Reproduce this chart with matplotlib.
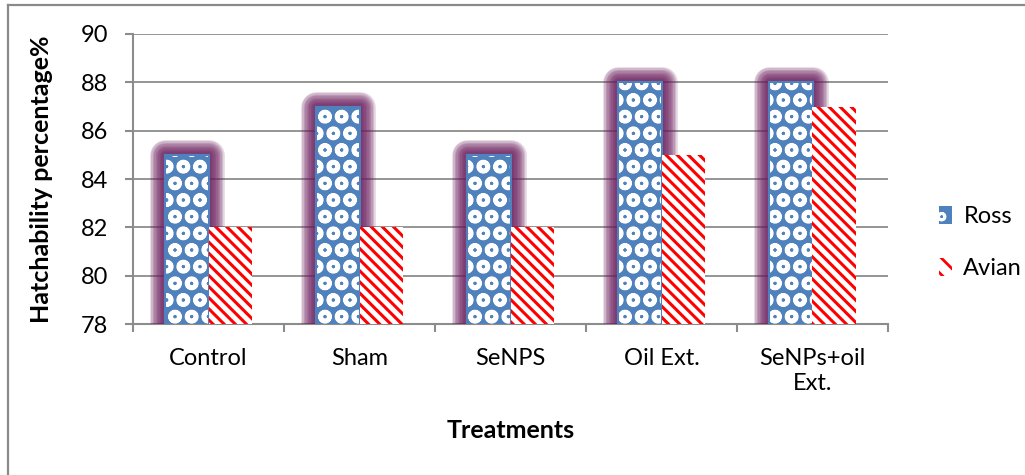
import matplotlib
matplotlib.use('Agg')
import matplotlib.pyplot as plt
import matplotlib.patheffects as pe
from matplotlib.patches import Patch
from matplotlib.lines import Line2D
import numpy as np

treatments = ['Control', 'Sham', 'SeNPS', 'Oil Ext.', 'SeNPs+oil\nExt.']
ross = [85, 87, 85, 88, 88]
avian = [82, 82, 82, 85, 87]

blue = '#4F81BD'
red = '#FF0000'
glow = '#6C1F5E'
grid_gray = '#8C8C8C'

plt.rcParams['font.family'] = ['Lato', 'DejaVu Sans']
plt.rcParams['hatch.linewidth'] = 2.0

fontsize = 17
fig = plt.figure(figsize=(10.25, 4.75), dpi=100)
ax = fig.add_axes([133 / 1025, 1 - 324 / 475, (888 - 133) / 1025, (324 - 34) / 475])

x = np.arange(len(treatments))
w = 0.29

# soft purple halo around the Ross bars
halo = [pe.withStroke(linewidth=lw, foreground=glow, alpha=0.18, joinstyle='round')
        for lw in range(22, 1, -2)]
halo.append(pe.Normal())

ross_bars = ax.bar(x - w / 2, ross, w, color=blue, edgecolor='white',
                   hatch='Oo', linewidth=0, zorder=3)
for b in ross_bars:
    b.set_path_effects(halo)
    if hasattr(b, 'set_hatch_linewidth'):
        b.set_hatch_linewidth(1.6)
# blue outline over the circle pattern
ax.bar(x - w / 2, ross, w, color='none', edgecolor=blue, linewidth=1.5, zorder=3)

avian_bars = ax.bar(x + w / 2, avian, w, color='white', edgecolor=red,
                    hatch='\\\\\\', linewidth=0, zorder=4)
for b in avian_bars:
    if hasattr(b, 'set_hatch_linewidth'):
        b.set_hatch_linewidth(2.2)

ax.set_ylim(78, 90)
ax.set_yticks(np.arange(78, 91, 2))
ax.set_xlim(-0.5, len(treatments) - 0.5)
ax.set_xticks(x)
ax.set_xticklabels(treatments, fontsize=fontsize, linespacing=1.25)
ax.set_xticks(np.arange(-0.5, len(treatments)), minor=True)
ax.tick_params(axis='x', which='major', length=0, pad=17)
ax.tick_params(axis='x', which='minor', length=6, width=1.5, color=grid_gray)
ax.tick_params(axis='y', length=6, width=1.5, color=grid_gray, pad=12, labelsize=fontsize)

ax.yaxis.grid(True, color=grid_gray, linewidth=1.3, zorder=0)
ax.set_axisbelow(True)
for side in ['top', 'right']:
    ax.spines[side].set_visible(False)
for side in ['left', 'bottom']:
    ax.spines[side].set_color(grid_gray)
    ax.spines[side].set_linewidth(1.5)

ax.set_ylabel('Hatchability percentage%', fontsize=18, fontweight='bold', labelpad=20)
ax.set_xlabel('Treatments', fontsize=18, fontweight='bold', labelpad=18)

handles = [Patch(facecolor=blue, edgecolor='white', hatch='o', linewidth=0),
           Patch(facecolor='white', edgecolor=red, hatch='\\\\', linewidth=0)]
fig.legend(handles, ['Ross', 'Avian'], loc='center left', bbox_to_anchor=(0.895, 0.49),
           frameon=False, fontsize=fontsize, handlelength=0.55, handleheight=0.8,
           handletextpad=0.5, labelspacing=1.3)

# chart frame edges
fig.add_artist(Line2D([7.5 / 1025, 1], [1 - 4.5 / 475] * 2, color='#8A8A8A', lw=1.6))
fig.add_artist(Line2D([7.5 / 1025] * 2, [0, 1 - 4.5 / 475], color='#8A8A8A', lw=1.6))

plt.savefig('out.png', dpi=100)
